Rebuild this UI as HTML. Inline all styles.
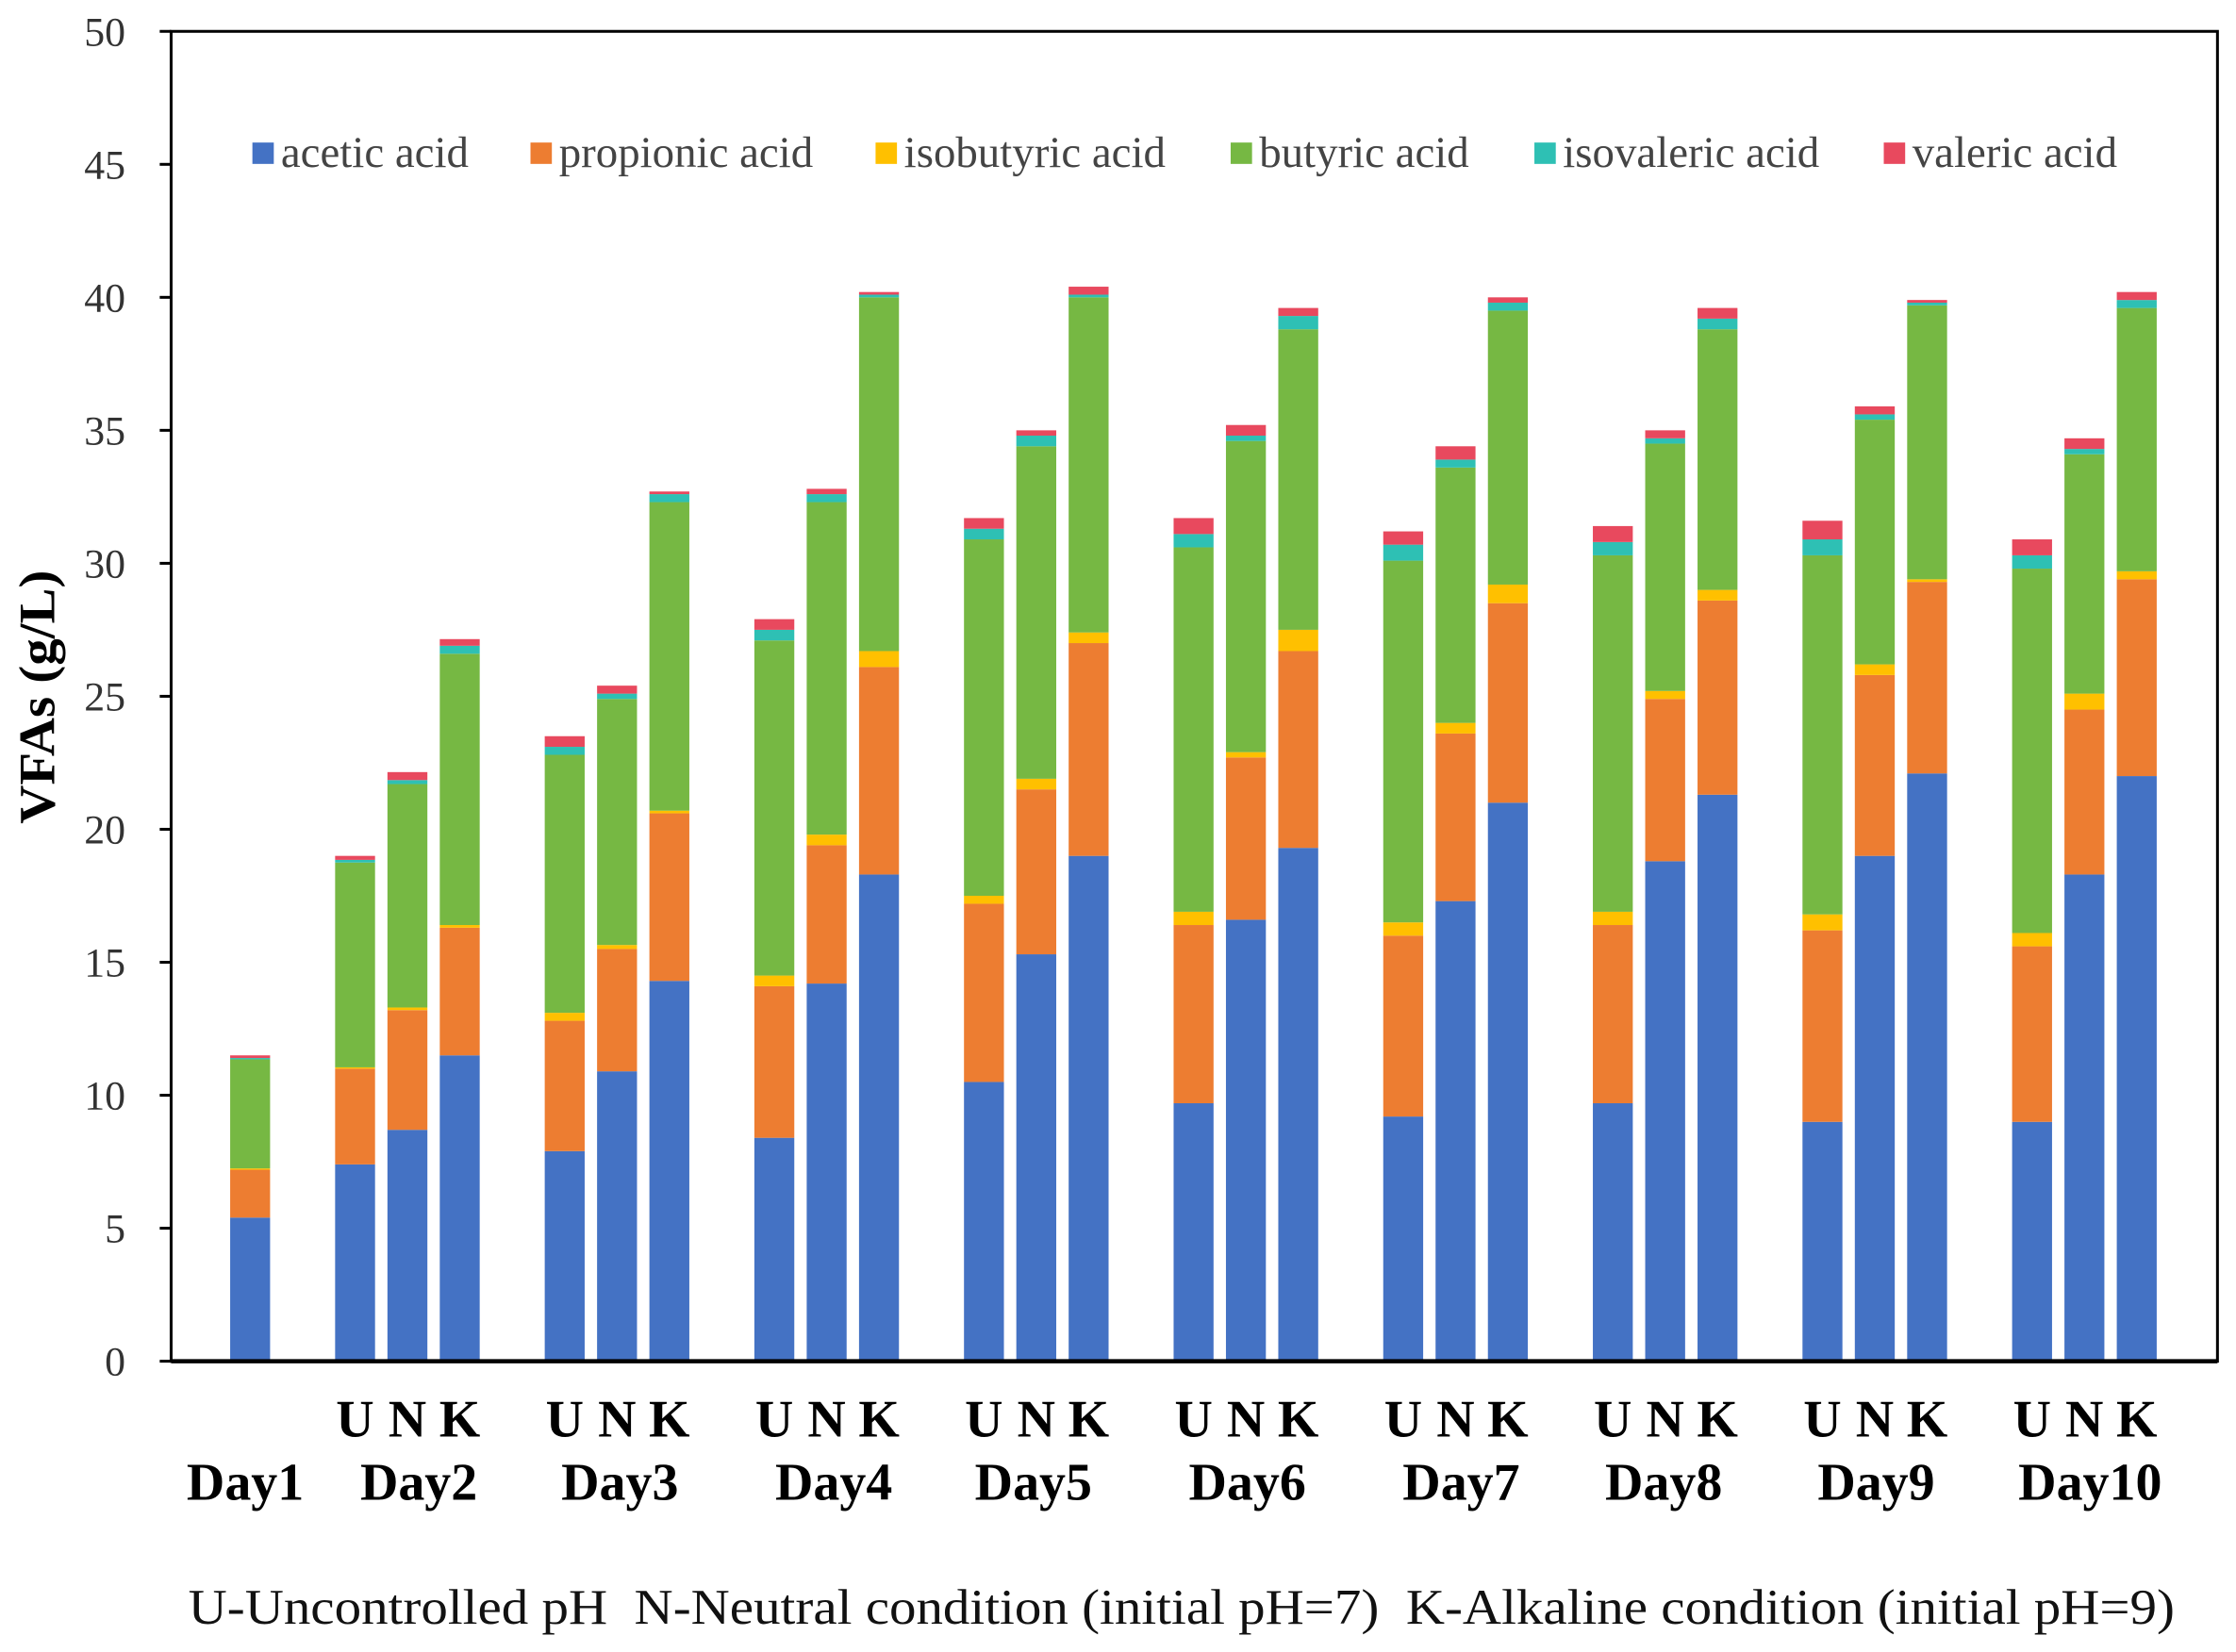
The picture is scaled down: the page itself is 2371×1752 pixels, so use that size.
<!DOCTYPE html>
<html><head><meta charset="utf-8"><style>
html,body{margin:0;padding:0;background:#fff;}
svg{display:block;}
text{font-family:"Liberation Serif",serif;}
</style></head><body>
<svg id="chart" width="2371" height="1752" viewBox="0 0 1568 1159" preserveAspectRatio="none" xmlns="http://www.w3.org/2000/svg">
<rect x="0" y="0" width="1568" height="1159" fill="#fff"/>
<g id="bars"></g>
<rect x="120" y="22" width="1435" height="933" fill="none" stroke="#000" stroke-width="2"/>
<line x1="120" y1="955" x2="1555" y2="955" stroke="#000" stroke-width="3"/>
<g id="yticks"></g>
<text transform="translate(38,489) rotate(-90)" text-anchor="middle" font-size="36" font-weight="bold" textLength="178" lengthAdjust="spacingAndGlyphs">VFAs (g/L)</text>
<g id="xlabels"></g>
<g id="legend"></g>
<text x="132" y="1139" font-size="35" fill="#111" textLength="1393" lengthAdjust="spacingAndGlyphs">U-Uncontrolled pH&#160; N-Neutral condition (initial pH=7)&#160; K-Alkaline condition (initial pH=9)</text>
</svg>
<script>
const days = ["Day1","Day2","Day3","Day4","Day5","Day6","Day7","Day8","Day9","Day10"];
const conditions = ["U","N","K"];
const seriesNames = ["acetic acid","propionic acid","isobutyric acid","butyric acid","isovaleric acid","valeric acid"];
const colors = ["#4472C4","#ED7D31","#FFC000","#76B843","#2EC0B4","#E8495E"];
const yTicks = [0,5,10,15,20,25,30,35,40,45,50];
// bars: [dayIndex, conditionIndex]
const barDay =  [0, 1,1,1, 2,2,2, 3,3,3, 4,4,4, 5,5,5, 6,6,6, 7,7,7, 8,8,8, 9,9,9];
const barCond = [2, 0,1,2, 0,1,2, 0,1,2, 0,1,2, 0,1,2, 0,1,2, 0,1,2, 0,1,2, 0,1,2];
const acetic =     [5.4, 7.4,8.7,11.5, 7.9,10.9,14.3, 8.4,14.2,18.3, 10.5,15.3,19.0, 9.7,16.6,19.3, 9.2,17.3,21.0, 9.7,18.8,21.3, 9.0,19.0,22.1, 9.0,18.3,22.0];
const propionic =  [1.8, 3.6,4.5,4.8, 4.9,4.6,6.3, 5.7,5.2,7.8, 6.7,6.2,8.0, 6.7,6.1,7.4, 6.8,6.3,7.5, 6.7,6.1,7.3, 7.2,6.8,7.2, 6.6,6.2,7.4];
const isobutyric = [0.05, 0.05,0.1,0.1, 0.3,0.15,0.1, 0.4,0.4,0.6, 0.3,0.4,0.4, 0.5,0.2,0.8, 0.5,0.4,0.7, 0.5,0.3,0.4, 0.6,0.4,0.1, 0.5,0.6,0.3];
const butyric =    [4.1, 7.7,8.4,10.2, 9.7,9.25,11.6, 12.6,12.5,13.3, 13.4,12.5,12.6, 13.7,11.7,11.3, 13.6,9.6,10.3, 13.4,9.3,9.8, 13.5,9.2,10.3, 13.7,9.0,9.9];
const isovaleric = [0.05, 0.1,0.15,0.3, 0.3,0.2,0.3, 0.4,0.3,0.1, 0.4,0.4,0.1, 0.5,0.2,0.5, 0.6,0.3,0.3, 0.5,0.2,0.4, 0.6,0.2,0.1, 0.5,0.2,0.3];
const valeric =    [0.1, 0.15,0.3,0.25, 0.4,0.3,0.1, 0.4,0.2,0.1, 0.4,0.2,0.3, 0.6,0.4,0.3, 0.5,0.5,0.2, 0.6,0.3,0.4, 0.7,0.3,0.1, 0.6,0.4,0.3];

const NS="http://www.w3.org/2000/svg";
const series=[acetic,propionic,isobutyric,butyric,isovaleric,valeric];
const y0=955, pxPerUnit=(955-22)/50;
function yScale(v){return y0-v*pxPerUnit;}
function xScale(d,c){return 102+147*d+36.7*c;}
const barW=28;
const bars=document.getElementById('bars');
for(let i=0;i<barDay.length;i++){
  let cum=0;
  const cx=xScale(barDay[i],barCond[i]);
  for(let s=0;s<series.length;s++){
    const v=series[s][i];
    const r=document.createElementNS(NS,'rect');
    r.setAttribute('x',cx-barW/2);
    r.setAttribute('y',yScale(cum+v));
    r.setAttribute('width',barW);
    r.setAttribute('height',Math.max(0,yScale(cum)-yScale(cum+v)));
    r.setAttribute('fill',colors[s]);
    
    
    bars.appendChild(r);
    cum+=v;
  }
}
const yt=document.getElementById('yticks');
yTicks.forEach(t=>{
  const l=document.createElementNS(NS,'line');
  l.setAttribute('x1',112);l.setAttribute('x2',120);
  l.setAttribute('y1',yScale(t));l.setAttribute('y2',yScale(t));
  l.setAttribute('stroke','#000');l.setAttribute('stroke-width',2);
  
  
  yt.appendChild(l);
  const tx=document.createElementNS(NS,'text');
  tx.setAttribute('x',88);tx.setAttribute('y',yScale(t)+10);
  tx.setAttribute('text-anchor','end');tx.setAttribute('font-size','29');tx.setAttribute('fill','#333');
  tx.textContent=t;
  
  
  yt.appendChild(tx);
});
const xl=document.getElementById('xlabels');
const dayCenterOffset=[-4,8,2,5,-2,1,4,-1,1,4];
days.forEach((d,i)=>{
  if(i>0){
    conditions.forEach((c,k)=>{
      const t=document.createElementNS(NS,'text');
      t.setAttribute('x',xScale(i,k));t.setAttribute('y',1008);
      t.setAttribute('text-anchor','middle');t.setAttribute('font-size','37');t.setAttribute('font-weight','bold');
      t.textContent=c;
      
      
      xl.appendChild(t);
    });
  }
  const t=document.createElementNS(NS,'text');
  t.setAttribute('x',(i===0?176:xScale(i,1))+dayCenterOffset[i]);t.setAttribute('y',1052);
  t.setAttribute('text-anchor','middle');t.setAttribute('font-size','37');t.setAttribute('font-weight','bold');
  t.textContent=d;
  
  
  xl.appendChild(t);
});
const legX=[177,372,614,863,1076,1321];
const lg=document.getElementById('legend');
seriesNames.forEach((n,i)=>{
  const r=document.createElementNS(NS,'rect');
  r.setAttribute('x',legX[i]);r.setAttribute('y',100);r.setAttribute('width',15);r.setAttribute('height',15);
  r.setAttribute('fill',colors[i]);
  
  
  lg.appendChild(r);
  const t=document.createElementNS(NS,'text');
  t.setAttribute('x',legX[i]+20);t.setAttribute('y',117);t.setAttribute('font-size','31');t.setAttribute('fill','#444');
  t.textContent=n;
  
  
  lg.appendChild(t);
});
</script>
</body></html>
